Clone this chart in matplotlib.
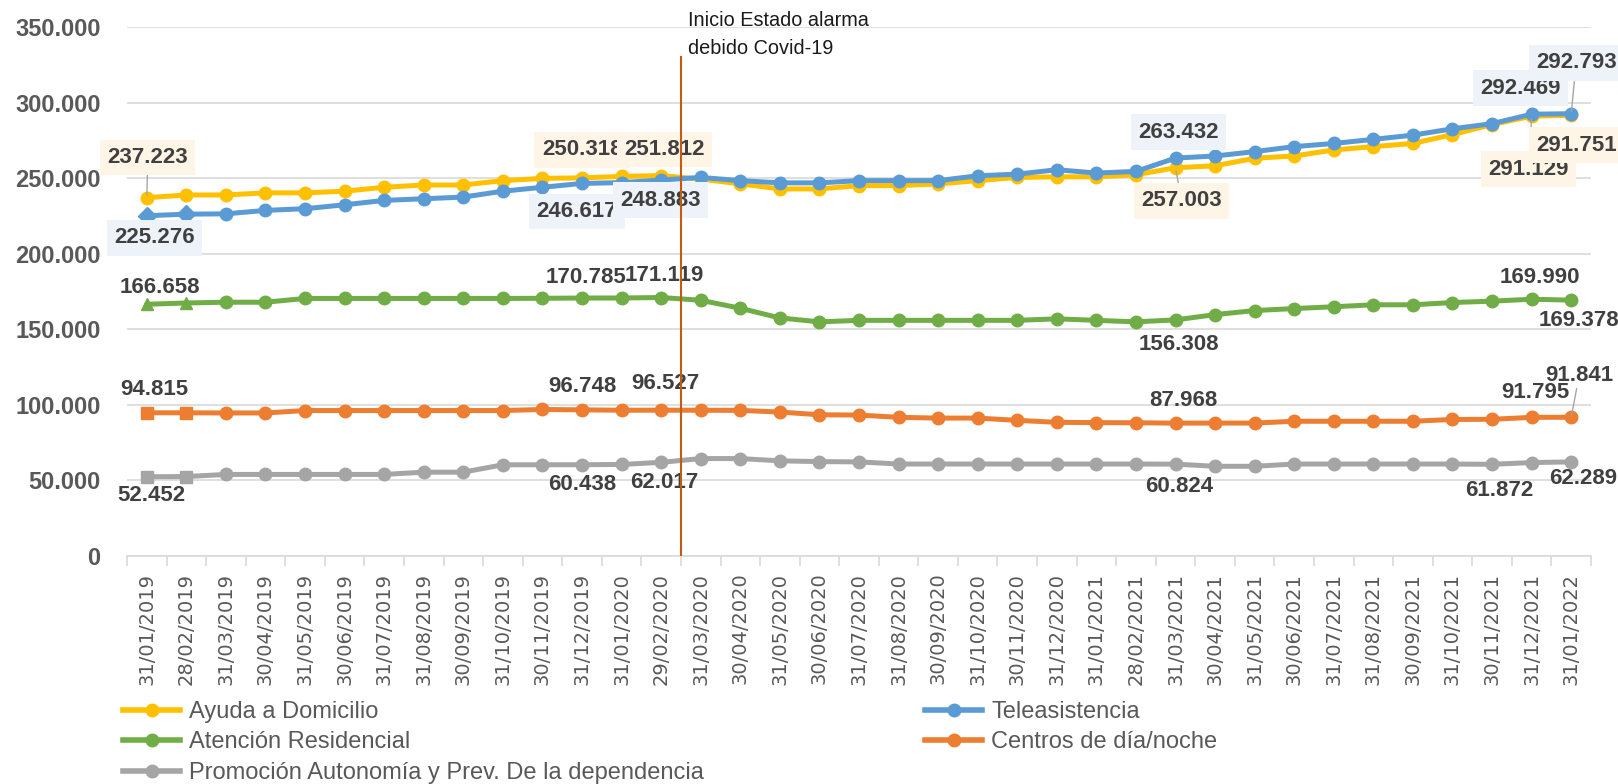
import numpy as np
import matplotlib.pyplot as plt
from matplotlib.lines import Line2D
from matplotlib.ticker import FuncFormatter

# fechas (fin de mes)
fechas = ["31/01/2019", "28/02/2019", "31/03/2019", "30/04/2019", "31/05/2019",
          "30/06/2019", "31/07/2019", "31/08/2019", "30/09/2019", "31/10/2019",
          "30/11/2019", "31/12/2019", "31/01/2020", "29/02/2020", "31/03/2020",
          "30/04/2020", "31/05/2020", "30/06/2020", "31/07/2020", "31/08/2020",
          "30/09/2020", "31/10/2020", "30/11/2020", "31/12/2020", "31/01/2021",
          "28/02/2021", "31/03/2021", "30/04/2021", "31/05/2021", "30/06/2021",
          "31/07/2021", "31/08/2021", "30/09/2021", "31/10/2021", "30/11/2021",
          "31/12/2021", "31/01/2022"]

# valores en miles de personas
ayuda = [237.223, 239.0, 239.0, 240.4, 240.4, 241.5, 244.1, 245.6, 245.6, 248.5,
         250.0, 250.318, 251.3, 251.812, 249.5, 246.3, 243.0, 243.0, 245.2, 245.2,
         246.3, 248.5, 250.6, 251.0, 251.0, 252.4, 257.003, 258.3, 263.3, 264.8,
         268.8, 271.0, 273.1, 279.0, 285.6, 291.129, 291.751]
tele = [225.276, 226.3, 226.5, 228.8, 229.9, 232.5, 235.4, 236.5, 237.6, 241.5,
        244.1, 246.617, 247.2, 248.883, 250.6, 248.5, 247.0, 247.0, 248.5, 248.5,
        248.5, 251.7, 252.8, 255.7, 253.5, 254.6, 263.432, 264.8, 267.7, 271.0,
        273.1, 275.8, 278.6, 282.8, 286.2, 292.469, 292.793]
residencial = [166.658, 167.5, 168.0, 168.0, 170.5, 170.5, 170.5, 170.5, 170.5, 170.5,
               170.6, 170.785, 170.8, 171.119, 169.3, 164.0, 157.6, 155.0, 156.0, 156.0,
               156.0, 156.0, 156.0, 157.0, 156.0, 155.0, 156.308, 159.8, 162.5, 163.8,
               165.0, 166.3, 166.3, 167.8, 168.7, 169.990, 169.378]
centros = [94.815, 94.8, 94.7, 94.7, 96.3, 96.3, 96.3, 96.3, 96.3, 96.3,
           97.0, 96.748, 96.5, 96.527, 96.5, 96.4, 95.3, 93.5, 93.3, 91.8,
           91.3, 91.3, 89.8, 88.5, 88.3, 88.2, 87.968, 88.0, 88.0, 89.2,
           89.2, 89.2, 89.2, 90.4, 90.5, 91.795, 91.841]
promocion = [52.452, 52.6, 54.0, 54.0, 54.0, 54.0, 54.0, 55.5, 55.5, 60.4,
             60.4, 60.438, 60.6, 62.017, 64.5, 64.5, 63.0, 62.5, 62.3, 60.9,
             60.9, 60.9, 60.9, 60.9, 60.9, 60.9, 60.824, 59.4, 59.4, 60.9,
             60.9, 60.9, 60.9, 60.9, 60.7, 61.872, 62.289]

nombres = ["Ayuda a Domicilio", "Teleasistencia", "Atención Residencial",
           "Centros de día/noche", "Promoción Autonomía y Prev. De la dependencia"]
colores = ["#FFC000", "#5B9BD5", "#70AD47", "#ED7D31", "#A5A5A5"]
# los dos primeros puntos usan otro marcador en el original
marca_ini = ["o", "D", "^", "s", "s"]
fondo_etiq = ["#FEF5E6", "#EEF3FA", None, None, None]

# etiquetas: (indice, dx px, dy px, linea guia)
etiquetas = [
    [(0, 1, 40, True), (11, 0, 28, False), (13, 3, 26, False),
     (26, 6, -33, True), (35, -3, -53, True), (36, 5, -30, False)],
    [(0, 8, -22, False), (11, -5, -28, False), (13, -1, -20, False),
     (26, 3, 26, False), (35, -11, 26, False), (36, 5, 51, True)],
    [(0, 13, 17, False), (11, 4, 21, False), (13, 3, 22, False),
     (26, 3, -25, False), (35, 8, 22, False), (36, 8, -20, False)],
    [(0, 8, 23, False), (11, 0, 23, False), (13, 4, 27, False),
     (26, 8, 23, False), (35, 4, 25, False), (36, 8, 42, True)],
    [(0, 5, -19, False), (11, 0, -20, False), (13, 3, -20, False),
     (26, 4, -22, False), (35, -32, -28, False), (36, 12, -17, False)],
]

def miles(v):
    return f"{v:,.0f}".replace(",", ".")

fig = plt.figure(figsize=(16.18, 7.84), dpi=100, facecolor="white")
ax = fig.add_axes([0.0785, 0.2908, 0.9048, 0.6744])

x = np.arange(len(fechas))
series = [ayuda, tele, residencial, centros, promocion]

for i, s in enumerate(series):
    y = np.array(s) * 1000
    ax.plot(x, y, color=colores[i], lw=3.6, marker="o", ms=9,
            markevery=list(range(2, len(x))), zorder=3 + i * 0.1,
            solid_capstyle="round")
    ax.plot(x[:2], y[:2], ls="none", marker=marca_ini[i], ms=9,
            color=colores[i], zorder=3 + i * 0.1)
    for idx, dx, dy, guia in etiquetas[i]:
        caja = None
        if fondo_etiq[i]:
            caja = dict(boxstyle="square,pad=0.33", fc=fondo_etiq[i], ec="none")
        flecha = None
        if guia:
            flecha = dict(arrowstyle="-", color="#A6A6A6", lw=1,
                          shrinkA=0, shrinkB=2)
        ax.annotate(miles(y[idx]), (x[idx], y[idx]), xytext=(dx, dy),
                    textcoords="offset pixels", ha="center", va="center",
                    fontsize=16, fontweight="bold", color="#404040",
                    family="Liberation Sans", bbox=caja, arrowprops=flecha,
                    zorder=6, annotation_clip=False)

# linea de estado de alarma
ax.plot([13.5, 13.5], [0, 330400], color="#C55A11", lw=1.5, zorder=8)
ax.text(13.68, 354300, "Inicio Estado alarma", fontsize=14.3, color="#1a1a1a",
        family="Liberation Sans", va="center", ha="left", clip_on=False)
ax.text(13.68, 336000, "debido Covid-19", fontsize=14.3, color="#1a1a1a",
        family="Liberation Sans", va="center", ha="left", clip_on=False)

# ejes
ax.set_xlim(-0.5, len(x) - 0.5)
ax.set_ylim(0, 350000)
ax.set_yticks(np.arange(0, 350001, 50000))
ax.yaxis.set_major_formatter(FuncFormatter(lambda v, p: miles(v)))
ax.grid(axis="y", color="#D9D9D9", lw=1.2, zorder=0)
ax.set_axisbelow(True)
for lado in ["top", "right", "left"]:
    ax.spines[lado].set_visible(False)
ax.spines["bottom"].set_color("#D9D9D9")
ax.spines["bottom"].set_linewidth(1.2)

ax.set_xticks(x)
ax.set_xticklabels(fechas, rotation=90, fontsize=14, color="#595959",
                   family="DejaVu Sans")
ax.set_xticks(np.arange(-0.5, len(x), 1), minor=True)
ax.tick_params(axis="x", which="major", length=0, pad=12)
ax.tick_params(axis="x", which="minor", length=7, color="#D9D9D9", width=1.2)
ax.tick_params(axis="y", length=0, pad=19)
for t in ax.get_yticklabels():
    t.set_fontsize(17)
    t.set_fontweight("bold")
    t.set_color("#595959")
    t.set_family("Liberation Sans")

# leyenda en dos bloques
manejadores = [Line2D([], [], color=c, lw=4, marker="o", ms=9) for c in colores]
estilo = dict(frameon=False, loc="upper left", handlelength=2.42,
              handletextpad=0.38, labelspacing=0.36, borderpad=0, borderaxespad=0,
              labelcolor="#595959", prop={"family": "Liberation Sans", "size": 17})
leg1 = fig.legend([manejadores[0], manejadores[2], manejadores[4]],
                  [nombres[0], nombres[2], nombres[4]],
                  bbox_to_anchor=(123 / 1618, 1 - 701 / 784), **estilo)
leg2 = fig.legend([manejadores[1], manejadores[3]], [nombres[1], nombres[3]],
                  bbox_to_anchor=(925 / 1618, 1 - 701 / 784), **estilo)

fig.savefig("out.png", dpi=100, facecolor="white")
